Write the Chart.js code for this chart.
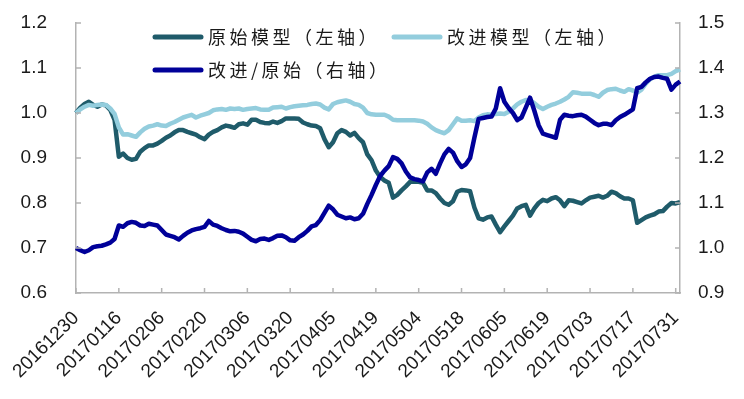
<!DOCTYPE html>
<html>
<head>
<meta charset="utf-8">
<script src="https://cdn.jsdelivr.net/npm/chart.js@4"></script>
<style>
  body { margin: 0; background: #fff; }
  #wrap { width: 744px; height: 399px; }
</style>
</head>
<body>
<div id="wrap"><canvas id="chart-area" width="744" height="399"></canvas></div>
<script>
// trading days, 20161230 .. 20170801
var dates = [
  '20161230',
  '20170103','20170104','20170105','20170106','20170109','20170110','20170111','20170112','20170113',
  '20170116','20170117','20170118','20170119','20170120','20170123','20170124','20170125','20170126',
  '20170203','20170206','20170207','20170208','20170209','20170210','20170213','20170214','20170215',
  '20170216','20170217','20170220','20170221','20170222','20170223','20170224','20170227','20170228',
  '20170301','20170302','20170303','20170306','20170307','20170308','20170309','20170310','20170313',
  '20170314','20170315','20170316','20170317','20170320','20170321','20170322','20170323','20170324',
  '20170327','20170328','20170329','20170330','20170331',
  '20170405','20170406','20170407','20170410','20170411','20170412','20170413','20170414','20170417',
  '20170418','20170419','20170420','20170421','20170424','20170425','20170426','20170427','20170428',
  '20170502','20170503','20170504','20170505','20170508','20170509','20170510','20170511','20170512',
  '20170515','20170516','20170517','20170518','20170519','20170522','20170523','20170524','20170525',
  '20170526','20170531',
  '20170601','20170602','20170605','20170606','20170607','20170608','20170609','20170612','20170613',
  '20170614','20170615','20170616','20170619','20170620','20170621','20170622','20170623','20170626',
  '20170627','20170628','20170629','20170630',
  '20170703','20170704','20170705','20170706','20170707','20170710','20170711','20170712','20170713',
  '20170714','20170717','20170718','20170719','20170720','20170721','20170724','20170725','20170726',
  '20170727','20170728','20170731',
  '20170801'
];

// 原始模型 (left axis)
var originalModel = [
  1.000,1.012,1.020,1.025,1.018,1.014,1.019,1.017,1.007,0.985,
  0.903,0.910,0.900,0.896,0.898,0.914,0.922,0.928,0.928,0.932,
  0.938,0.945,0.950,0.957,0.962,0.962,0.958,0.955,0.952,0.946,
  0.942,0.952,0.958,0.962,0.968,0.972,0.970,0.967,0.975,0.977,
  0.974,0.985,0.985,0.980,0.978,0.977,0.981,0.978,0.982,0.988,
  0.988,0.988,0.987,0.979,0.975,0.972,0.971,0.966,0.942,0.924,
  0.935,0.955,0.962,0.958,0.950,0.956,0.944,0.935,0.908,0.895,
  0.872,0.858,0.850,0.845,0.812,0.818,0.828,0.837,0.847,0.848,
  0.847,0.845,0.828,0.828,0.822,0.810,0.800,0.796,0.804,0.825,
  0.829,0.828,0.826,0.790,0.766,0.763,0.768,0.770,0.752,0.735,
  0.748,0.760,0.772,0.788,0.793,0.796,0.772,0.788,0.800,0.807,
  0.804,0.810,0.813,0.806,0.793,0.806,0.805,0.802,0.799,0.806,
  0.812,0.814,0.816,0.812,0.816,0.825,0.822,0.815,0.810,0.810,
  0.806,0.756,0.762,0.768,0.772,0.775,0.781,0.782,0.792,0.800,
  0.799,0.802
];

// 改进模型 (left axis)
var improvedModel = [
  1.000,1.008,1.014,1.018,1.016,1.018,1.019,1.018,1.010,0.998,
  0.968,0.952,0.953,0.950,0.947,0.957,0.965,0.970,0.972,0.975,
  0.972,0.971,0.976,0.980,0.985,0.990,0.993,0.996,0.990,0.994,
  0.997,1.000,1.006,1.008,1.009,1.007,1.010,1.009,1.010,1.007,
  1.009,1.010,1.011,1.008,1.007,1.007,1.012,1.013,1.014,1.010,
  1.013,1.015,1.016,1.017,1.018,1.020,1.021,1.019,1.012,1.008,
  1.020,1.024,1.026,1.028,1.025,1.020,1.018,1.012,1.000,0.997,
  0.996,0.996,0.996,0.992,0.985,0.984,0.984,0.984,0.984,0.984,
  0.983,0.981,0.976,0.968,0.962,0.958,0.955,0.962,0.975,0.988,
  0.983,0.983,0.984,0.982,0.990,0.995,0.997,0.996,0.998,0.999,
  0.998,1.003,1.010,1.019,1.025,1.029,1.028,1.022,1.014,1.009,
  1.014,1.018,1.021,1.025,1.030,1.036,1.046,1.045,1.043,1.043,
  1.043,1.040,1.036,1.045,1.051,1.053,1.054,1.050,1.047,1.053,
  1.050,1.045,1.052,1.065,1.075,1.081,1.084,1.084,1.084,1.087,
  1.093,1.097
];

// 改进/原始 (right axis)
var ratio = [
  1.000,0.995,0.991,0.995,1.002,1.004,1.005,1.008,1.012,1.020,
  1.050,1.047,1.055,1.058,1.056,1.050,1.049,1.054,1.052,1.050,
  1.040,1.030,1.027,1.024,1.019,1.027,1.034,1.039,1.042,1.044,
  1.047,1.060,1.052,1.049,1.044,1.040,1.037,1.038,1.036,1.032,
  1.025,1.018,1.015,1.020,1.021,1.018,1.022,1.027,1.028,1.024,
  1.017,1.016,1.024,1.030,1.038,1.048,1.051,1.062,1.078,1.094,
  1.086,1.074,1.070,1.066,1.068,1.064,1.066,1.076,1.098,1.118,
  1.140,1.160,1.172,1.182,1.202,1.198,1.188,1.170,1.157,1.153,
  1.151,1.148,1.168,1.176,1.165,1.188,1.208,1.220,1.212,1.193,
  1.180,1.186,1.200,1.245,1.287,1.289,1.291,1.292,1.310,1.355,
  1.325,1.311,1.300,1.284,1.290,1.312,1.334,1.305,1.273,1.254,
  1.251,1.248,1.245,1.285,1.296,1.294,1.293,1.295,1.296,1.292,
  1.285,1.278,1.273,1.276,1.276,1.273,1.284,1.291,1.296,1.302,
  1.308,1.355,1.358,1.368,1.376,1.380,1.381,1.378,1.376,1.352,
  1.363,1.370
];

var seriesNames = ['原始模型（左轴）', '改进模型（左轴）', '改进/原始（右轴）'];
var colors = {
  teal: '#1f5b6a',
  sky: '#93cddd',
  navy: '#000099',
  axis: '#b3b3b3',
  text: '#1a1a1a'
};
var labelEvery = 10;

// small tick marks pointing into the plot, like the original
var innerTicks = {
  id: 'innerTicks',
  afterDraw: function(chart) {
    var ctx = chart.ctx;
    var x = chart.scales.x, y = chart.scales.y, yR = chart.scales.yR;
    ctx.save();
    ctx.strokeStyle = colors.axis;
    ctx.lineWidth = 1.5;
    ctx.beginPath();
    y.ticks.forEach(function(t) {
      var py = y.getPixelForValue(t.value);
      ctx.moveTo(y.right, py); ctx.lineTo(y.right + 5, py);
    });
    yR.ticks.forEach(function(t) {
      var py = yR.getPixelForValue(t.value);
      ctx.moveTo(yR.left, py); ctx.lineTo(yR.left - 5, py);
    });
    dates.forEach(function(d, i) {
      if (i % labelEvery !== 0) return;
      var px = x.getPixelForValue(i);
      ctx.moveTo(px, x.top); ctx.lineTo(px, x.top - 5);
    });
    ctx.stroke();
    ctx.restore();
  }
};

// legend drawn inside the plot area, two rows
var innerLegend = {
  id: 'innerLegend',
  afterDraw: function(chart) {
    var ctx = chart.ctx;
    var a = chart.chartArea;
    var items = [
      { text: seriesNames[0], color: colors.teal, dx: 79, dy: 14 },
      { text: seriesNames[1], color: colors.sky,  dx: 318, dy: 14 },
      { text: seriesNames[2], color: colors.navy, dx: 79, dy: 47 }
    ];
    ctx.save();
    ctx.font = '18px "Noto Sans CJK SC"';
    ctx.letterSpacing = '3.5px';
    ctx.textBaseline = 'middle';
    ctx.fillStyle = colors.text;
    items.forEach(function(it) {
      var lx = a.left + it.dx, ly = a.top + it.dy;
      ctx.strokeStyle = it.color;
      ctx.lineWidth = 5;
      ctx.lineCap = 'round';
      ctx.beginPath();
      ctx.moveTo(lx, ly); ctx.lineTo(lx + 46, ly);
      ctx.stroke();
      ctx.fillText(it.text, lx + 53, ly);
    });
    ctx.restore();
  }
};

function lineSet(label, data, color, axis, order) {
  return {
    label: label,
    data: data,
    yAxisID: axis,
    borderColor: color,
    backgroundColor: color,
    borderWidth: 4.5,
    borderJoinStyle: 'round',
    pointRadius: 0,
    tension: 0,
    order: order
  };
}

function fixWidth(w) {
  return function(s) {
    s.width = w;
    s.paddingTop = 0;
    s.paddingBottom = 0;
  };
}

var ctx = document.getElementById('chart-area').getContext('2d');
var chart = new Chart(ctx, {
  type: 'line',
  data: {
    labels: dates,
    datasets: [
      lineSet(seriesNames[0], originalModel, colors.teal, 'y', 3),
      lineSet(seriesNames[1], improvedModel, colors.sky, 'y', 2),
      lineSet(seriesNames[2], ratio, colors.navy, 'yR', 1)
    ]
  },
  options: {
    responsive: false,
    animation: false,
    layout: { padding: { top: 23, left: 0, right: 0, bottom: 0 } },
    plugins: {
      legend: { display: false },
      tooltip: { enabled: false }
    },
    scales: {
      x: {
        offset: false,
        grid: { display: false },
        border: { display: true, color: colors.axis, width: 1.5 },
        ticks: {
          autoSkip: false,
          maxRotation: 45,
          minRotation: 45,
          padding: 6,
          color: colors.text,
          font: { family: 'Liberation Sans, Arial', size: 19 },
          callback: function(v, i) { return i % labelEvery === 0 ? dates[i] : ''; }
        },
        afterFit: function(s) { s.height = 106; }
      },
      y: {
        position: 'left',
        min: 0.6,
        max: 1.2,
        grid: { display: false },
        border: { display: true, color: colors.axis, width: 1.5 },
        ticks: {
          stepSize: 0.1,
          padding: 21,
          color: colors.text,
          font: { family: 'Liberation Sans, Arial', size: 19 },
          callback: function(v) { return v.toFixed(1); }
        },
        afterFit: fixWidth(76)
      },
      yR: {
        position: 'right',
        min: 0.9,
        max: 1.5,
        grid: { display: false },
        border: { display: true, color: colors.axis, width: 1.5 },
        ticks: {
          stepSize: 0.1,
          padding: 10,
          color: colors.text,
          font: { family: 'Liberation Sans, Arial', size: 19 },
          callback: function(v) { return v.toFixed(1); }
        },
        afterFit: fixWidth(64)
      }
    }
  },
  plugins: [innerTicks, innerLegend]
});
</script>
</body>
</html>
